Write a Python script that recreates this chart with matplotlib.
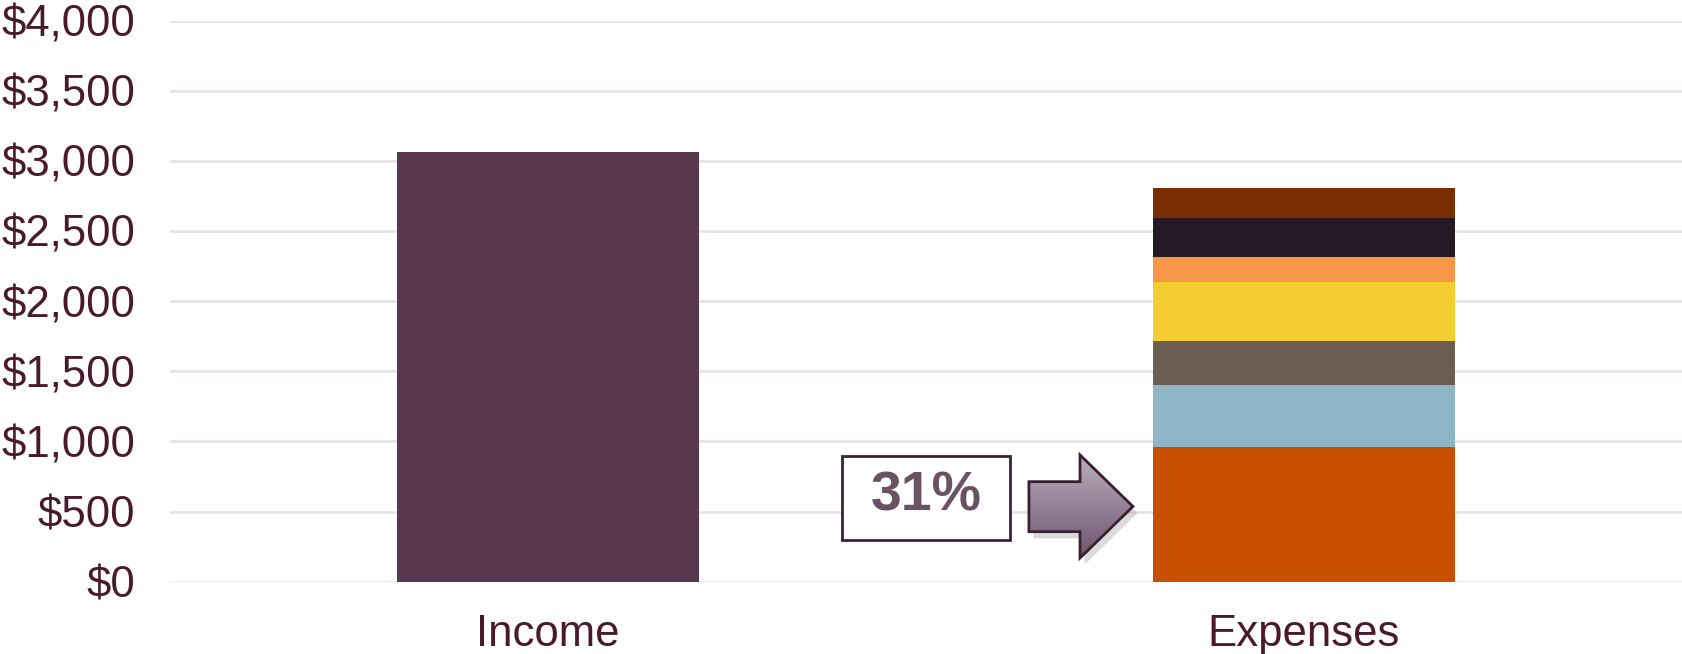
import numpy as np
import matplotlib.pyplot as plt
from matplotlib.patches import Polygon, Rectangle
from matplotlib.ticker import FuncFormatter
from matplotlib.colors import LinearSegmentedColormap

plt.rcParams['font.family'] = ['Liberation Sans', 'DejaVu Sans']

categories = ['Income', 'Expenses']
income = 3060
# expense pieces, bottom to top
expense_parts = [960, 442, 314, 420, 178, 278, 214]
expense_colors = ['#c94f00', '#8eb6c6', '#6b5d52', '#f4cd30', '#f79646', '#261926', '#7a2e00']
share_label = '31%'

txt = '#4a1a2c'

fig = plt.figure(figsize=(16.82, 6.54), dpi=100)
ax = fig.add_axes([0.101, 0.1106, 0.899, 0.858])

x = np.arange(len(categories))
w = 0.40
ax.bar(x[0], income, width=w, color='#58374f', zorder=3)
bottom = 0
for v, c in zip(expense_parts, expense_colors):
    ax.bar(x[1], v, width=w, bottom=bottom, color=c, zorder=3)
    bottom += v

ax.set_xlim(-0.5, 1.5)
ax.set_ylim(0, 4000)
ax.set_yticks(np.arange(0, 4001, 500))
ax.yaxis.set_major_formatter(FuncFormatter(lambda v, p: '${:,.0f}'.format(v)))
ax.set_xticks(x)
ax.set_xticklabels(categories)
ax.tick_params(axis='both', length=0, labelsize=31.5, labelcolor=txt)
ax.tick_params(axis='y', pad=25)
ax.tick_params(axis='x', pad=23)
ax.grid(axis='y', color='#e6e0e3', linewidth=1.8, zorder=0)
for s in ax.spines.values():
    s.set_visible(False)

# "31%" callout box
box = Rectangle((0.4442, 0.0743), 0.1114, 0.1502, transform=ax.transAxes,
                facecolor='white', edgecolor='#3f2236', linewidth=2, zorder=5)
ax.add_patch(box)
ax.text(0.4999, 0.1509, share_label, transform=ax.transAxes, ha='center', va='center',
        fontsize=40, fontweight='bold', color='#6a5262', zorder=6)

# block arrow with gradient
pts = [(0.5681, 0.1782), (0.6019, 0.1782), (0.6019, 0.2258), (0.6369, 0.1340),
       (0.6019, 0.0422), (0.6019, 0.0891), (0.5681, 0.0891)]
shadow = Polygon([(px + 0.003, py - 0.012) for px, py in pts], closed=True,
                 transform=ax.transAxes, facecolor='#9a9a9a', alpha=0.35,
                 edgecolor='none', zorder=4)
ax.add_patch(shadow)
arrow = Polygon(pts, closed=True, transform=ax.transAxes, facecolor='none',
                edgecolor='#3a1f33', linewidth=2, zorder=6)
ax.add_patch(arrow)
grad = np.linspace(0, 1, 256).reshape(-1, 1)
cmap = LinearSegmentedColormap.from_list('arr', ['#bdb0bd', '#6d5470'])
im = ax.imshow(grad, cmap=cmap, aspect='auto', extent=[0.5681, 0.6369, 0.0422, 0.2258],
               transform=ax.transAxes, origin='upper', zorder=5)
im.set_clip_path(arrow)

ax.set_xlim(-0.5, 1.5)
ax.set_ylim(0, 4000)

fig.savefig('out.png', dpi=100)
